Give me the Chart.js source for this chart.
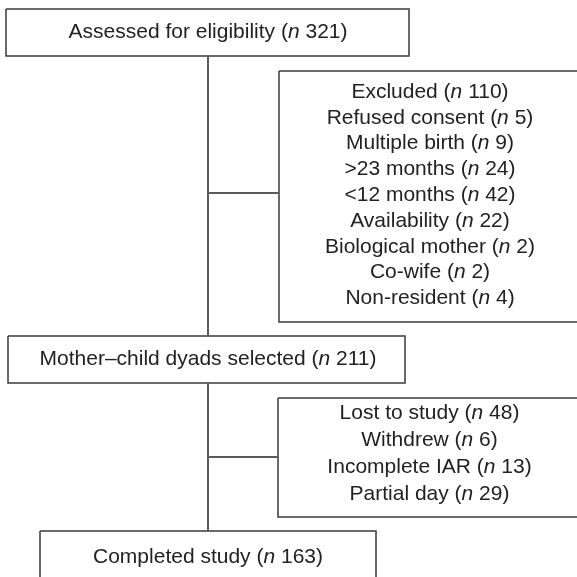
<!DOCTYPE html>
<html>
<head>
<meta charset="utf-8">
<script src="https://cdn.jsdelivr.net/npm/chart.js@4"></script>
<style>
  html, body { margin: 0; padding: 0; background: #fff; }
  canvas { display: block; }
</style>
</head>
<body>
<canvas id="flowChart" width="577" height="577"></canvas>
<script>
// flow stages (main column)
const stageLabels = ['Assessed for eligibility', 'Mother\u2013child dyads selected', 'Completed study'];
const stageCounts = [321, 211, 163];

// first exclusion box
const excludedTitle = 'Excluded';
const excludedTotal = 110;
const excludedReasons = ['Refused consent', 'Multiple birth', '>23 months', '<12 months', 'Availability', 'Biological mother', 'Co-wife', 'Non-resident'];
const excludedCounts = [5, 9, 24, 42, 22, 2, 2, 4];

// second exclusion box
const lostTitle = 'Lost to study';
const lostTotal = 48;
const lostReasons = ['Withdrew', 'Incomplete IAR', 'Partial day'];
const lostCounts = [6, 13, 29];

// layout in canvas units (x right, y down)
const stageBoxes = [
    { x0: 6, x1: 409, y0: 9, y1: 56 },
    { x0: 8, x1: 405, y0: 336, y1: 383 },
    { x0: 40, x1: 376, y0: 531, y1: 600 }
];
const sideBoxes = [
    { x0: 279, x1: 581, y0: 71, y1: 322, firstLine: 92, lineGap: 25.8 },
    { x0: 278, x1: 581, y0: 398, y1: 517, firstLine: 413, lineGap: 27 }
];
const spineX = 208;
const branchY = [193, 457];

const boxColor = '#3a3a3a';
const linkColor = '#5a5a5a';
const textColor = '#222';
const fontFamily = '"Liberation Sans", Arial, sans-serif';
const fontSize = 21;

function rect(b) {
    return [
        { x: b.x0, y: b.y0 }, { x: b.x1, y: b.y0 },
        { x: b.x1, y: b.y1 }, { x: b.x0, y: b.y1 }, { x: b.x0, y: b.y0 }
    ];
}
function lineSet(points, color, width) {
    return {
        data: points, showLine: true, borderColor: color, borderWidth: width,
        pointRadius: 0, fill: false, tension: 0, clip: false
    };
}

const datasets = [];
// connectors
datasets.push(lineSet([{ x: spineX, y: stageBoxes[0].y1 }, { x: spineX, y: stageBoxes[1].y0 }], linkColor, 2));
datasets.push(lineSet([{ x: spineX, y: stageBoxes[1].y1 }, { x: spineX, y: stageBoxes[2].y0 }], linkColor, 2));
datasets.push(lineSet([{ x: spineX, y: branchY[0] }, { x: sideBoxes[0].x0, y: branchY[0] }], linkColor, 2));
datasets.push(lineSet([{ x: spineX, y: branchY[1] }, { x: sideBoxes[1].x0, y: branchY[1] }], linkColor, 2));
// boxes
stageBoxes.forEach(b => datasets.push(lineSet(rect(b), boxColor, 1.5)));
sideBoxes.forEach(b => datasets.push(lineSet(rect(b), boxColor, 1.5)));

// text lines: [label, count]
const stageText = stageLabels.map((l, i) => [l, stageCounts[i]]);
const sideText = [
    [[excludedTitle, excludedTotal]].concat(excludedReasons.map((l, i) => [l, excludedCounts[i]])),
    [[lostTitle, lostTotal]].concat(lostReasons.map((l, i) => [l, lostCounts[i]]))
];

function drawEntry(ctx, cx, cy, label, count) {
    const normal = fontSize + 'px ' + fontFamily;
    const italic = 'italic ' + fontSize + 'px ' + fontFamily;
    const a = label + ' (', b = 'n', c = ' ' + count + ')';
    ctx.font = normal;
    const wa = ctx.measureText(a).width, wc = ctx.measureText(c).width;
    ctx.font = italic;
    const wb = ctx.measureText(b).width;
    let x = cx - (wa + wb + wc) / 2;
    ctx.font = normal; ctx.fillText(a, x, cy); x += wa;
    ctx.font = italic; ctx.fillText(b, x, cy); x += wb;
    ctx.font = normal; ctx.fillText(c, x, cy);
}

const textPlugin = {
    id: 'boxText',
    afterDatasetsDraw(chart) {
        const { ctx, scales: { x, y } } = chart;
        ctx.save();
        ctx.fillStyle = textColor;
        ctx.textAlign = 'left';
        ctx.textBaseline = 'middle';
        stageText.forEach(([label, count], i) => {
            const b = stageBoxes[i];
            const cy = i === 2 ? y.getPixelForValue(b.y0 + 26) : y.getPixelForValue((b.y0 + b.y1) / 2);
            drawEntry(ctx, x.getPixelForValue(spineX), cy, label, count);
        });
        sideText.forEach((lines, k) => {
            const b = sideBoxes[k];
            const cx = x.getPixelForValue((b.x0 + b.x1) / 2);
            lines.forEach(([label, count], j) => {
                drawEntry(ctx, cx, y.getPixelForValue(b.firstLine + j * b.lineGap), label, count);
            });
        });
        ctx.restore();
    }
};

new Chart(document.getElementById('flowChart').getContext('2d'), {
    type: 'scatter',
    data: { datasets: datasets },
    options: {
        responsive: false,
        animation: false,
        layout: { padding: 0 },
        plugins: { legend: { display: false }, tooltip: { enabled: false } },
        scales: {
            x: { type: 'linear', min: 0, max: 577, display: false },
            y: { type: 'linear', min: 0, max: 577, reverse: true, display: false }
        }
    },
    plugins: [textPlugin]
});
</script>
</body>
</html>
